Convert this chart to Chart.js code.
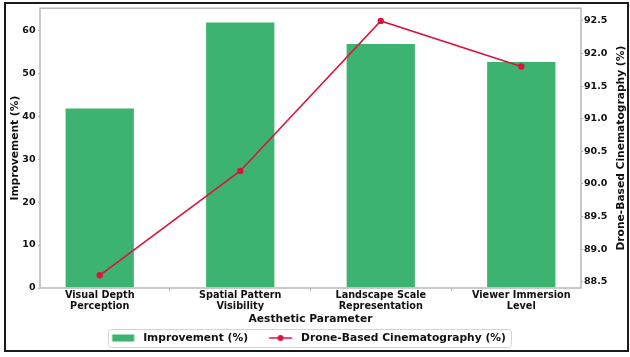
<!DOCTYPE html>
<html>
<head>
<meta charset="utf-8">
<script src="https://cdn.jsdelivr.net/npm/chart.js@4"></script>
<style>
html,body{margin:0;padding:0;background:#fff;}
#wrap{width:630px;height:357px;position:relative;}
</style>
</head>
<body>
<div id="wrap"><canvas id="c" width="630" height="357"></canvas></div>
<script>
const categories = [
  ["Visual Depth", "Perception"],
  ["Spatial Pattern", "Visibility"],
  ["Landscape Scale", "Representation"],
  ["Viewer Immersion", "Level"]
];
const improvement = [42, 62, 57, 52.8];
const droneCinematography = [88.6, 90.2, 92.5, 91.8];
const leftTicks = [0, 10, 20, 30, 40, 50, 60];
const rightTicks = [88.5, 89.0, 89.5, 90.0, 90.5, 91.0, 91.5, 92.0, 92.5];
const rightTitle = 'Drone-Based Cinematography (%)';

const GREEN = '#3CB371';
const RED = '#DC143C';
const SPINE = '#b8b8b8';
const FONT = 'DejaVu Sans';
const TITLE_SIZE = 10.7;
const LEG_BOX = 30.65;
const ICON_W = 40;
const PAD_L = -17;

function makeIcon(kind) {
  const c = document.createElement('canvas');
  c.width = ICON_W; c.height = 8;
  const g = c.getContext('2d');
  if (kind === 'bar') {
    g.fillStyle = GREEN;
    g.fillRect(9.7, 0.5, 22, 7);
  } else {
    g.strokeStyle = RED; g.lineWidth = 1.5;
    g.beginPath(); g.moveTo(8.7, 4); g.lineTo(31.7, 4); g.stroke();
    g.fillStyle = RED; g.beginPath(); g.arc(20.2, 4, 3, 0, Math.PI * 2); g.fill();
  }
  return c;
}
const icons = [makeIcon('bar'), makeIcon('line')];

const frame = {
  id: 'frame',
  afterDraw(chart) {
    const {ctx, chartArea: a} = chart;
    ctx.save();
    ctx.strokeStyle = SPINE; ctx.lineWidth = 1.5;
    ctx.strokeRect(a.left, a.top, a.right - a.left, a.bottom - a.top);
    // right axis title, reading bottom to top
    ctx.fillStyle = '#111';
    ctx.font = `bold ${TITLE_SIZE}px "${FONT}"`;
    ctx.textAlign = 'center'; ctx.textBaseline = 'middle';
    ctx.translate(621.5, (a.top + a.bottom) / 2);
    ctx.rotate(-Math.PI / 2);
    ctx.fillText(rightTitle, 0, 0);
    ctx.setTransform(1, 0, 0, 1, 0, 0);
    // legend border
    const lg = chart.legend;
    if (lg && lg.legendHitBoxes && lg.legendHitBoxes.length) {
      const hb = lg.legendHitBoxes;
      const l = hb[0].left + LEG_BOX / 2 - ICON_W / 2 + 9.7 - 4;
      const last = hb[hb.length - 1];
      const r = last.left + last.width + 5;
      const cy = hb[0].top + hb[0].height / 2;
      ctx.strokeStyle = '#d4d4d4'; ctx.lineWidth = 1;
      ctx.beginPath();
      ctx.roundRect(Math.round(l) + 0.5, Math.round(cy - 9) + 0.5, Math.round(r - l), 18, 3);
      ctx.stroke();
    }
    ctx.strokeStyle = '#1a1a1a'; ctx.lineWidth = 2;
    ctx.strokeRect(5, 3, 623, 348);
    ctx.restore();
  }
};

new Chart(document.getElementById('c'), {
  data: {
    datasets: [
      {
        type: 'bar',
        label: 'Improvement (%)',
        data: improvement.map((v, i) => ({x: i, y: v})),
        backgroundColor: GREEN,
        borderColor: 'rgba(255,255,255,0.55)',
        borderWidth: 1,
        categoryPercentage: 1,
        barPercentage: 0.5,
        yAxisID: 'y',
        order: 2
      },
      {
        type: 'line',
        label: rightTitle,
        data: droneCinematography.map((v, i) => ({x: i, y: v})),
        borderColor: RED,
        backgroundColor: RED,
        borderWidth: 1.6,
        pointRadius: 3.2,
        pointHoverRadius: 3.2,
        pointBorderWidth: 0,
        tension: 0,
        yAxisID: 'y1',
        order: 1
      }
    ]
  },
  options: {
    responsive: false,
    animation: false,
    devicePixelRatio: 1,
    layout: {padding: {top: 7, bottom: 5.4, left: PAD_L, right: 0}},
    plugins: {
      tooltip: {enabled: false},
      legend: {
        position: 'bottom',
        maxHeight: 36,
        labels: {
          font: {family: FONT, weight: 'bold', size: TITLE_SIZE},
          color: '#111',
          usePointStyle: true,
          pointStyleWidth: LEG_BOX,
          padding: 17,
          generateLabels(chart) {
            return chart.data.datasets.map((ds, i) => ({
              text: ds.label,
              pointStyle: icons[i],
              fillStyle: ds.backgroundColor,
              strokeStyle: ds.borderColor,
              lineWidth: 0,
              hidden: false,
              datasetIndex: i,
              fontColor: '#111'
            }));
          }
        }
      }
    },
    scales: {
      x: {
        type: 'linear',
        min: -0.425,
        max: 3.425,
        offset: false,
        afterBuildTicks(s) { s.ticks = categories.map((c, i) => ({value: i})); },
        afterFit(s) { s.height = 27.6; },
        ticks: {
          callback: (v) => categories[v] || '',
          font: {family: FONT, weight: 'bold', size: 9.7, lineHeight: 1.13},
          color: '#111',
          padding: -1,
          maxRotation: 0,
          autoSkip: false
        },
        grid: {display: true, drawOnChartArea: false, drawTicks: true, tickLength: 3, color: SPINE, lineWidth: 1},
        border: {display: false},
        title: {
          display: true,
          text: 'Aesthetic Parameter',
          font: {family: FONT, weight: 'bold', size: TITLE_SIZE},
          color: '#111',
          padding: {top: 0, bottom: -9.8}
        }
      },
      y: {
        type: 'linear',
        position: 'left',
        min: 0,
        max: 65.1,
        afterBuildTicks(s) { s.ticks = leftTicks.map(v => ({value: v})); },
        afterFit(s) { s.width = 40 - PAD_L; },
        ticks: {
          font: {family: FONT, weight: 'bold', size: 9.5},
          color: '#111',
          padding: 2.5
        },
        grid: {display: true, drawOnChartArea: false, drawTicks: true, tickLength: 2, color: SPINE},
        border: {display: false},
        title: {
          display: true,
          text: 'Improvement (%)',
          font: {family: FONT, weight: 'bold', size: TITLE_SIZE},
          color: '#111',
          padding: {top: 8.6 - PAD_L, bottom: 0}
        }
      },
      y1: {
        type: 'linear',
        position: 'right',
        min: 88.405,
        max: 92.695,
        afterBuildTicks(s) { s.ticks = rightTicks.map(v => ({value: v})); },
        afterFit(s) { s.width = 49; },
        ticks: {
          callback: (v) => Number(v).toFixed(1),
          font: {family: FONT, weight: 'bold', size: 9.5},
          color: '#111',
          padding: 1
        },
        grid: {display: true, drawOnChartArea: false, drawTicks: true, tickLength: 2, color: SPINE},
        border: {display: false},
        title: {display: false}
      }
    }
  },
  plugins: [frame]
});
</script>
</body>
</html>
